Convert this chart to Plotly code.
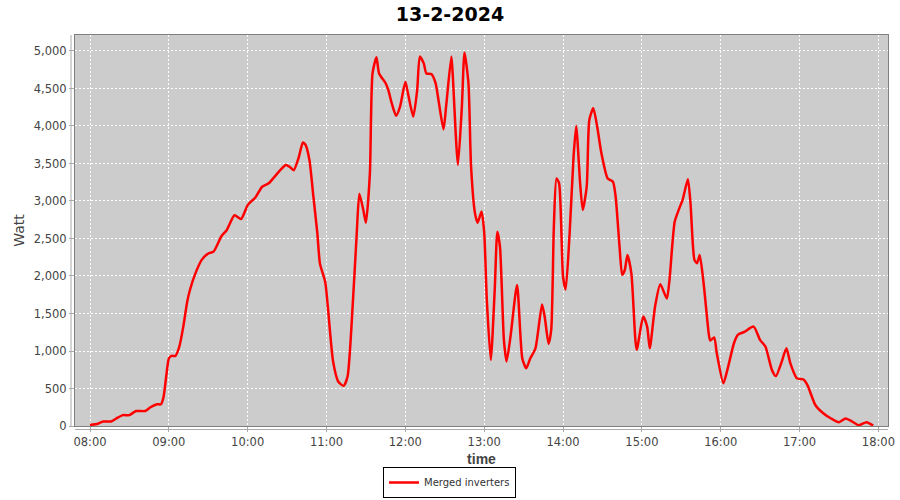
import plotly.graph_objects as go

# Power readings for 13-2-2024
day = "2024-02-13"

times = [
    "08:00", "08:06", "08:10", "08:16", "08:20", "08:25", "08:30", "08:35", "08:42", "08:46",
    "08:51", "08:54", "08:56", "08:58", "09:00", "09:02", "09:05", "09:08", "09:11", "09:14",
    "09:16", "09:20", "09:25", "09:30", "09:34", "09:40", "09:44", "09:50", "09:55", "10:00",
    "10:06", "10:11", "10:16", "10:21", "10:25", "10:29", "10:32", "10:35", "10:39", "10:42",
    "10:44", "10:47", "10:50", "10:53", "10:55", "10:59", "11:01", "11:05", "11:09", "11:13",
    "11:16", "11:20", "11:23", "11:25", "11:28", "11:30", "11:33", "11:35", "11:38", "11:40",
    "11:45", "11:47", "11:50", "11:53", "11:56", "12:00", "12:02", "12:06", "12:09", "12:11",
    "12:14", "12:16", "12:20", "12:23", "12:25", "12:29", "12:31", "12:35", "12:36", "12:40",
    "12:43", "12:45", "12:48", "12:50", "12:53", "12:55", "12:58", "13:00", "13:02", "13:05",
    "13:08", "13:10", "13:12", "13:15", "13:17", "13:20", "13:25", "13:29", "13:32", "13:35",
    "13:39", "13:44", "13:46", "13:49", "13:51", "13:53", "13:55", "13:57", "14:00", "14:02",
    "14:05", "14:08", "14:10", "14:13", "14:15", "14:18", "14:20", "14:23", "14:26", "14:29",
    "14:34", "14:38", "14:40", "14:43", "14:45", "14:47", "14:49", "14:52", "14:56", "15:01",
    "15:04", "15:06", "15:10", "15:14", "15:19", "15:21", "15:25", "15:29", "15:31", "15:35",
    "15:37", "15:40", "15:42", "15:44", "15:47", "15:51", "15:52", "15:55", "15:57", "16:02",
    "16:05", "16:10", "16:13", "16:18", "16:25", "16:30", "16:34", "16:39", "16:42", "16:46",
    "16:50", "16:53", "16:58", "17:03", "17:06", "17:12", "17:18", "17:24", "17:30", "17:35",
    "17:40", "17:45", "17:51", "17:56",
]

watt = [
    13, 30, 60, 60, 100, 145, 145, 200, 200, 250,
    290, 290, 390, 660, 900, 935, 935, 1060, 1325, 1660,
    1810, 2025, 2215, 2300, 2325, 2530, 2610, 2810, 2760, 2945,
    3050, 3190, 3235, 3335, 3415, 3480, 3455, 3410, 3590, 3780,
    3750, 3545, 3060, 2570, 2165, 1920, 1590, 860, 590, 535,
    660, 1635, 2570, 3095, 2880, 2710, 3370, 4700, 4915, 4700,
    4570, 4480, 4280, 4135, 4260, 4590, 4435, 4125, 4480, 4925,
    4835, 4700, 4690, 4570, 4370, 3955, 4260, 4925, 4700, 3480,
    4260, 4980, 4570, 3460, 2835, 2710, 2860, 2580, 1680, 880,
    1815, 2590, 2390, 1145, 860, 1190, 1880, 900, 770, 900,
    1035, 1620, 1460, 1095, 1280, 2660, 3300, 3235, 1990, 1820,
    2570, 3590, 4000, 3235, 2880, 3190, 4080, 4235, 3990, 3655,
    3300, 3255, 3060, 2390, 2015, 2080, 2280, 2035, 1015, 1460,
    1325, 1035, 1590, 1890, 1700, 1945, 2725, 2925, 3015, 3290,
    2970, 2215, 2170, 2280, 1900, 1215, 1140, 1180, 970, 570,
    745, 1100, 1215, 1255, 1325, 1145, 1060, 745, 665, 835,
    1035, 835, 635, 620, 545, 280, 170, 100, 50, 100,
    60, 10, 50, 5,
]

x_ticks = ["08:00", "09:00", "10:00", "11:00", "12:00", "13:00",
           "14:00", "15:00", "16:00", "17:00", "18:00"]
y_ticks = [0, 500, 1000, 1500, 2000, 2500, 3000, 3500, 4000, 4500, 5000]

xs = [f"{day} {t}" for t in times]

W, H = 900, 500

fig = go.Figure()
fig.add_trace(go.Scatter(
    x=xs, y=watt,
    mode="lines",
    line=dict(color="#ff0000", width=2.5, shape="spline", smoothing=0.6),
    name="Merged inverters",
))

axis_font = dict(family="DejaVu Sans", size=11.5, color="#444444")

fig.update_layout(
    width=W, height=H,
    margin=dict(l=75, r=12, t=35, b=74, autoexpand=False),
    paper_bgcolor="white",
    plot_bgcolor="#cccccc",
    title=dict(text="<b>13-2-2024</b>", x=450 / W, xref="container", xanchor="center",
               y=1 - 14 / H, yref="container", yanchor="middle",
               font=dict(family="DejaVu Sans", size=19, color="black")),
    showlegend=True,
    legend=dict(orientation="h", x=449.5 / W, xref="container", xanchor="center",
                y=2 / H, yref="container", yanchor="bottom",
                bgcolor="white", bordercolor="black", borderwidth=1,
                font=dict(family="DejaVu Sans", size=10, color="#333333"),
                itemwidth=30),
    xaxis=dict(
        type="date",
        automargin=False,
        range=[f"{day} 07:48:35", f"{day} 18:07:18"],
        tickvals=[f"{day} {t}" for t in x_ticks],
        ticktext=x_ticks,
        showgrid=True, gridcolor="white", griddash="2px,2px", gridwidth=1,
        showline=True, linecolor="#808080", linewidth=1, mirror=True,
        ticks="outside", ticklen=5, tickcolor="#aaaaaa",
        tickfont=axis_font,
        title=dict(text="<b>time</b>", standoff=6,
                   font=dict(family="Liberation Sans", size=14, color="#444444")),
        zeroline=False,
    ),
    yaxis=dict(
        automargin=False,
        range=[0, 5213],
        tickvals=y_ticks,
        tickformat=",d",
        showgrid=True, gridcolor="white", griddash="2px,2px", gridwidth=1,
        showline=True, linecolor="#808080", linewidth=1, mirror=True,
        ticks="outside", ticklen=5, tickcolor="#aaaaaa",
        tickfont=axis_font,
        title=dict(text="Watt", standoff=5,
                   font=dict(family="DejaVu Sans", size=14, color="#444444")),
        zeroline=False,
    ),
)

# offset axis lines like the original chart
fig.add_shape(type="line", xref="paper", yref="paper", x0=-4 / 813, x1=-4 / 813, y0=0, y1=1,
              line=dict(color="#aaaaaa", width=1))
fig.add_shape(type="line", xref="paper", yref="paper", x0=0, x1=1, y0=-3.5 / 391, y1=-3.5 / 391,
              line=dict(color="#aaaaaa", width=1))

# drop the default 8px body margin so the figure fills the window
fig.write_html("out.html", config={"displayModeBar": False},
               post_script="document.body.style.margin='0';")
